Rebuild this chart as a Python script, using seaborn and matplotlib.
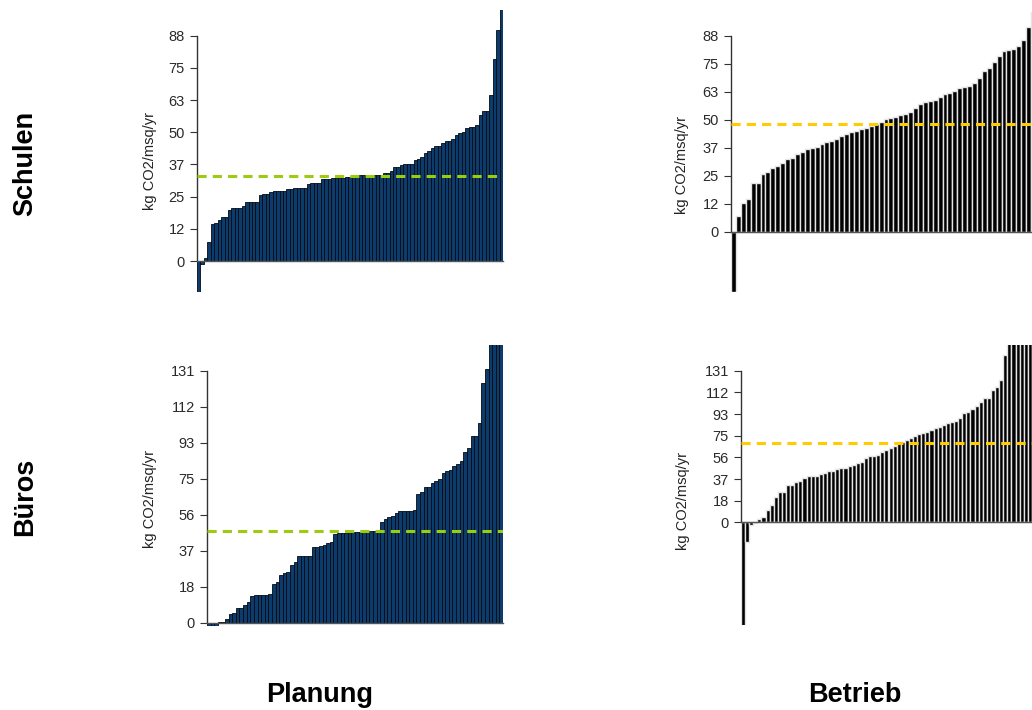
import numpy as np
import pandas as pd
import matplotlib
matplotlib.use("Agg")
import matplotlib.pyplot as plt
import seaborn as sns

# ---------------- data ----------------
schulen_planung = [-12.5, -1.0, 1.3, 7.5, 14.5, 15.0, 16.0, 17.0, 17.0, 20.0,
                   20.7, 20.7, 20.7, 21.5, 23.2, 23.2, 23.2, 23.2, 25.8, 26.3,
                   26.3, 26.8, 27.3, 27.3, 27.3, 27.3, 28.0, 28.0, 28.6, 28.6,
                   28.6, 28.6, 30.0, 30.6, 30.6, 30.6, 31.9, 31.9, 31.9, 32.4,
                   32.4, 32.4, 32.4, 32.7, 32.7, 32.7, 33.7, 33.7, 33.5, 33.5,
                   33.5, 33.7, 33.7, 33.7, 34.2, 34.2, 35.0, 36.8, 36.8, 37.5,
                   37.9, 37.9, 37.9, 39.5, 40.0, 40.8, 42.0, 43.0, 44.0, 45.0,
                   45.0, 46.2, 47.0, 47.0, 47.7, 49.2, 50.0, 50.4, 51.8, 52.5,
                   52.5, 53.1, 57.0, 58.7, 58.7, 65.0, 78.8, 90.2, 105.0]
schulen_betrieb = [-27.0, 7.0, 13.0, 15.0, 22.0, 22.0, 26.0, 27.0, 28.6, 29.5,
                   31.0, 32.5, 33.0, 35.0, 35.8, 37.0, 37.6, 38.2, 39.5, 40.3,
                   40.8, 41.5, 43.0, 43.8, 45.0, 45.2, 46.0, 46.6, 47.5, 48.5,
                   49.5, 50.5, 51.0, 51.5, 52.3, 53.0, 53.6, 55.5, 57.5, 58.3,
                   58.8, 59.0, 60.5, 61.8, 62.3, 63.0, 64.5, 65.0, 65.3, 67.0,
                   69.0, 72.0, 73.5, 76.0, 79.0, 81.0, 81.5, 82.0, 83.5, 86.0,
                   92.0, 99.0]
bueros_planung = [-1.5, -1.5, -1.5, 0.3, 0.3, 1.7, 4.5, 5.2, 7.8, 7.8,
                  9.2, 10.9, 14.0, 14.4, 14.4, 14.4, 14.4, 14.9, 20.1, 21.0,
                  24.8, 25.6, 26.5, 30.0, 31.7, 34.8, 34.8, 34.8, 34.8, 39.2,
                  39.2, 39.9, 40.5, 41.2, 41.8, 45.9, 46.8, 46.8, 46.8, 46.8,
                  47.1, 47.1, 47.1, 47.1, 47.1, 47.7, 47.8, 48.2, 52.3, 54.0,
                  54.9, 55.6, 56.8, 58.0, 58.0, 58.0, 58.0, 58.6, 66.9, 67.8,
                  70.7, 70.7, 72.4, 73.8, 74.7, 77.6, 78.7, 79.4, 81.4, 82.3,
                  84.0, 88.7, 90.6, 97.0, 97.0, 103.6, 124.8, 131.9, 150.0, 155.0,
                  160.0, 170.0]
bueros_betrieb = [-95.0, -16.7, -2.3, -0.3, 2.9, 4.9, 10.7, 15.0, 22.0, 26.5,
                  26.5, 32.2, 32.2, 35.1, 36.0, 38.0, 40.3, 40.3, 40.3, 41.5,
                  42.9, 44.6, 44.6, 45.8, 47.2, 47.2, 48.7, 49.5, 51.0, 51.8,
                  55.3, 57.3, 57.3, 58.4, 60.5, 62.5, 63.9, 65.9, 69.1, 69.1,
                  71.1, 72.6, 74.9, 76.0, 76.9, 78.3, 79.8, 81.8, 82.6, 84.1,
                  85.5, 86.4, 87.8, 89.8, 94.2, 95.6, 97.6, 100.5, 104.2, 107.1,
                  107.1, 114.3, 117.2, 123.0, 144.5, 160.0, 170.0, 180.0, 190.0, 200.0,
                  210.0, 220.0]

mean_values = [33.3, 48.6, 47.7, 68.2]          # dashed reference lines
tick_max = [88, 88, 131, 131]
tick_labels_schulen = ["0", "12", "25", "37", "50", "63", "75", "88"]
tick_labels_bueros = ["0", "18", "37", "56", "75", "93", "112", "131"]
row_labels = ["Schulen", "Büros"]
col_labels = ["Planung", "Betrieb"]
y_label = "kg CO2/msq/yr"

# ---------------- style ----------------
sns.set_theme(style="white")
plt.rcParams["font.family"] = ["Liberation Sans", "DejaVu Sans"]

W, H = 1032, 710
fig = plt.figure(figsize=(W / 100, H / 100), dpi=100)


def px_axes(left, right, top, bottom):
    return fig.add_axes([left / W, 1 - bottom / H, (right - left) / W, (bottom - top) / H])


panels = [
    dict(vals=schulen_planung, mean=mean_values[0], tmax=tick_max[0], labels=tick_labels_schulen,
         ylim=(-12.1, 98.0), box=(197, 503, 10, 292), face="#0c3b6e", edge="#050a10", lw=0.6,
         mcol="#9ccc10", ylab=(-0.154, 0.463)),
    dict(vals=schulen_betrieb, mean=mean_values[1], tmax=tick_max[1], labels=tick_labels_schulen,
         ylim=(-26.9, 98.6), box=(731, 1036, 12, 292), face="#000000", edge="#e4e4e4", lw=1.0,
         mcol="#ffcc00", ylab=(-0.161, 0.454)),
    dict(vals=bueros_planung, mean=mean_values[2], tmax=tick_max[2], labels=tick_labels_bueros,
         ylim=(-1.7, 144.4), box=(207, 503, 345, 626), face="#0c3b6e", edge="#050a10", lw=0.6,
         mcol="#9ccc10", ylab=(-0.193, 0.452)),
    dict(vals=bueros_betrieb, mean=mean_values[3], tmax=tick_max[3], labels=tick_labels_bueros,
         ylim=(-88.7, 153.2), box=(741, 1036, 345, 625), face="#000000", edge="#e4e4e4", lw=1.0,
         mcol="#ffcc00", ylab=(-0.197, 0.443)),
]

for p in panels:
    ax = px_axes(*p["box"])
    df = pd.DataFrame({"idx": np.arange(len(p["vals"])), "val": p["vals"]})
    sns.barplot(data=df, x="idx", y="val", width=1.0, color=p["face"], saturation=1,
                edgecolor=p["edge"], linewidth=p["lw"], errorbar=None, ax=ax)
    ax.set_ylim(*p["ylim"])
    ax.set_xticks([])
    ax.set_xlabel("")
    ax.axhline(p["mean"], color=p["mcol"], lw=2.2, ls=(0, (3, 2)), zorder=5)
    ticks = np.linspace(0, p["tmax"], len(p["labels"]))
    ax.set_yticks(ticks)
    ax.set_yticklabels(p["labels"])
    ax.tick_params(axis="y", direction="out", length=4.7, width=0.8, color="#333333",
                   pad=4.0, labelsize=10.5, labelcolor="#2a2a2a", left=True)
    for s in ["top", "right"]:
        ax.spines[s].set_visible(False)
    ax.spines["left"].set_bounds(0, p["tmax"])
    ax.spines["left"].set_color("#333333")
    ax.spines["left"].set_linewidth(1.0)
    ax.spines["bottom"].set_position(("data", 0))
    ax.spines["bottom"].set_color("#555555")
    ax.spines["bottom"].set_linewidth(1.0)
    ax.set_ylabel(y_label, fontsize=10.5, color="#222222")
    ax.yaxis.label.set_va("center")
    ax.yaxis.set_label_coords(*p["ylab"])
    ax.patch.set_alpha(0)

fig.text(25 / W, 1 - 163 / H, row_labels[0], rotation=90, ha="center", va="center",
         fontsize=19.5, fontweight="bold", color="black")
fig.text(25 / W, 1 - 497 / H, row_labels[1], rotation=90, ha="center", va="center",
         fontsize=19.5, fontweight="bold", color="black")
fig.text(320 / W, 1 - 695 / H, col_labels[0], ha="center", va="center",
         fontsize=19.5, fontweight="bold", color="black")
fig.text(855 / W, 1 - 695 / H, col_labels[1], ha="center", va="center",
         fontsize=19.5, fontweight="bold", color="black")

fig.savefig("out.png", dpi=100, facecolor="white")
